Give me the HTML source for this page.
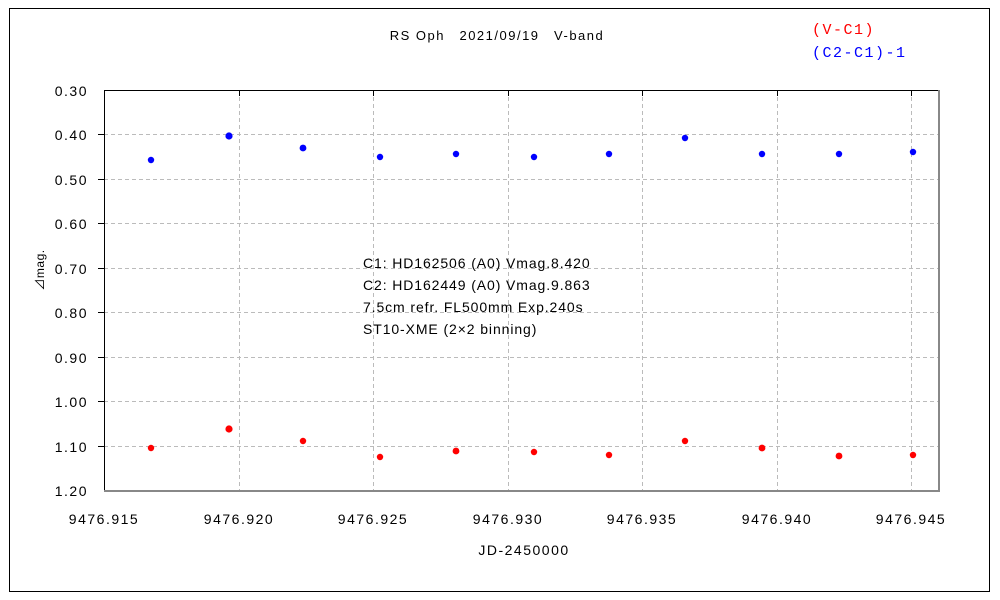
<!DOCTYPE html>
<html><head><meta charset="utf-8"><style>
html,body{margin:0;padding:0;background:#fff;width:1000px;height:600px;overflow:hidden}
text{font-family:"Liberation Sans","Noto Sans CJK JP",sans-serif;font-size:14px;fill:#000;letter-spacing:1.5px}
.ann{letter-spacing:0.9px}
.leg{font-family:"Liberation Mono",monospace;font-size:15px;letter-spacing:1.5px}
</style></head><body>
<svg width="1000" height="600" xmlns="http://www.w3.org/2000/svg">
<rect x="9.5" y="8.5" width="980" height="583" fill="#fff" stroke="#000" stroke-width="1"/>
<g stroke="#bbb" stroke-dasharray="4,3" stroke-width="1">
<line x1="239.5" y1="90" x2="239.5" y2="491"/>
<line x1="373.5" y1="90" x2="373.5" y2="491"/>
<line x1="508.5" y1="90" x2="508.5" y2="491"/>
<line x1="642.5" y1="90" x2="642.5" y2="491"/>
<line x1="777.5" y1="90" x2="777.5" y2="491"/>
<line x1="911.5" y1="90" x2="911.5" y2="491"/>
<line x1="104" y1="134.5" x2="939" y2="134.5"/>
<line x1="104" y1="179.5" x2="939" y2="179.5"/>
<line x1="104" y1="223.5" x2="939" y2="223.5"/>
<line x1="104" y1="268.5" x2="939" y2="268.5"/>
<line x1="104" y1="312.5" x2="939" y2="312.5"/>
<line x1="104" y1="357.5" x2="939" y2="357.5"/>
<line x1="104" y1="401.5" x2="939" y2="401.5"/>
<line x1="104" y1="446.5" x2="939" y2="446.5"/>
</g>
<line x1="104" y1="90.5" x2="939" y2="90.5" stroke="#000"/>
<line x1="104.5" y1="90" x2="104.5" y2="491" stroke="#000"/>
<line x1="939" y1="90" x2="939" y2="491.5" stroke="#888" stroke-width="2"/>
<line x1="104" y1="491" x2="940" y2="491" stroke="#888" stroke-width="2"/>
<g stroke="#000">
<line x1="98" y1="134.5" x2="104" y2="134.5"/><line x1="98" y1="179.5" x2="104" y2="179.5"/>
<line x1="98" y1="223.5" x2="104" y2="223.5"/><line x1="98" y1="268.5" x2="104" y2="268.5"/>
<line x1="98" y1="312.5" x2="104" y2="312.5"/><line x1="98" y1="357.5" x2="104" y2="357.5"/>
<line x1="98" y1="401.5" x2="104" y2="401.5"/><line x1="98" y1="446.5" x2="104" y2="446.5"/>
<line x1="239.5" y1="90" x2="239.5" y2="96"/><line x1="373.5" y1="90" x2="373.5" y2="96"/>
<line x1="508.5" y1="90" x2="508.5" y2="96"/><line x1="642.5" y1="90" x2="642.5" y2="96"/>
<line x1="777.5" y1="90" x2="777.5" y2="96"/><line x1="911.5" y1="90" x2="911.5" y2="96"/>
</g>
<g text-anchor="end">
<text x="88" y="96">0.30</text><text x="88" y="140">0.40</text><text x="88" y="185">0.50</text>
<text x="88" y="229">0.60</text><text x="88" y="274">0.70</text><text x="88" y="318">0.80</text>
<text x="88" y="363">0.90</text><text x="88" y="407">1.00</text><text x="88" y="452">1.10</text>
<text x="88" y="496">1.20</text>
</g>
<g text-anchor="middle">
<text x="104" y="524">9476.915</text><text x="239" y="524">9476.920</text><text x="373" y="524">9476.925</text>
<text x="508" y="524">9476.930</text><text x="642" y="524">9476.935</text><text x="777" y="524">9476.940</text>
<text x="911" y="524">9476.945</text>
<text x="524" y="555">JD-2450000</text>
<text x="497" y="40" style="font-size:13px">RS Oph　2021/09/19　V-band</text>
</g>
<text transform="translate(44,270) rotate(-90)" text-anchor="middle" style="font-size:12px;letter-spacing:0.5px">⊿mag.</text>
<text class="leg" x="812" y="34" style="fill:#f00">(V-C1)</text>
<text class="leg" x="812" y="57" style="fill:#00f">(C2-C1)-1</text>
<text class="ann" x="363" y="268">C1: HD162506 (A0) Vmag.8.420</text>
<text class="ann" x="363" y="290">C2: HD162449 (A0) Vmag.9.863</text>
<text class="ann" x="363" y="312">7.5cm refr. FL500mm Exp.240s</text>
<text class="ann" x="363" y="334">ST10-XME (2×2 binning)</text>
<g fill="#00f">
<circle cx="151" cy="160" r="3.2"/><circle cx="229" cy="136" r="3.6"/><circle cx="303" cy="148" r="3.4"/>
<circle cx="380" cy="157" r="3.2"/><circle cx="456" cy="154" r="3.2"/><circle cx="534" cy="157" r="3.2"/>
<circle cx="609" cy="154" r="3.2"/><circle cx="685" cy="138" r="3.2"/><circle cx="762" cy="154" r="3.2"/>
<circle cx="839" cy="154" r="3.2"/><circle cx="913" cy="152" r="3.2"/>
</g>
<g fill="#f00">
<circle cx="151" cy="448" r="3.2"/><circle cx="229" cy="429" r="3.6"/><circle cx="303" cy="441" r="3.2"/>
<circle cx="380" cy="457" r="3.2"/><circle cx="456" cy="451" r="3.4"/><circle cx="534" cy="452" r="3.2"/>
<circle cx="609" cy="455" r="3.2"/><circle cx="685" cy="441" r="3.2"/><circle cx="762" cy="448" r="3.4"/>
<circle cx="839" cy="456" r="3.4"/><circle cx="913" cy="455" r="3.2"/>
</g>
</svg>
</body></html>
